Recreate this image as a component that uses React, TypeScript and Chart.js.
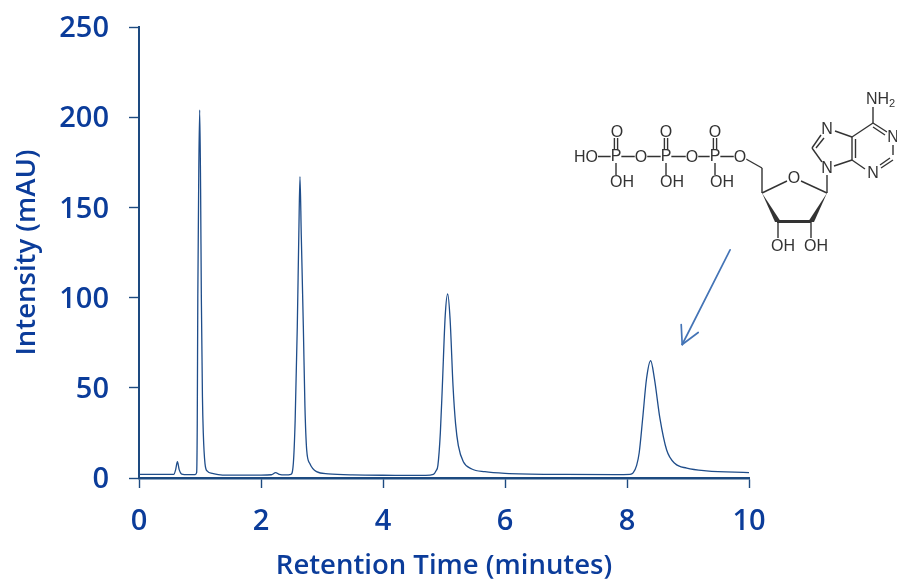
import React, { useEffect, useRef } from "react";
import { Chart, registerables } from "chart.js";

Chart.register(...registerables);

const xTickValues = [0, 2, 4, 6, 8, 10];
const yTickValues = [0, 50, 100, 150, 200, 250];
const xTitle = "Retention Time (minutes)";
const yTitle = "Intensity (mAU)";

const times = [
  0, 0.3, 0.57, 0.6, 0.63, 0.66, 0.7, 0.8, 0.92, 0.945, 0.955, 0.964, 0.98, 0.995, 1.01, 1.022, 1.04, 1.054,
  1.082, 1.12, 1.2, 1.3, 1.45, 1.7, 2.0, 2.17, 2.24, 2.3, 2.4, 2.49, 2.53, 2.56, 2.595, 2.62, 2.639, 2.66,
  2.694, 2.72, 2.749, 2.8, 2.91, 3.1, 3.5, 4.2, 4.7, 4.825, 4.87, 4.9, 4.94, 4.973, 5.02, 5.06, 5.1, 5.148,
  5.19, 5.235, 5.317, 5.455, 5.67, 6.0, 7.0, 7.8, 8.05, 8.1, 8.158, 8.2, 8.257, 8.32, 8.388, 8.45, 8.54,
  8.65, 8.787, 8.98, 9.3, 10,
];
const intensities = [
  2, 2, 2, 4.5, 9, 4.5, 2.2, 1.9, 1.9, 3, 30, 100, 170, 204, 160, 100, 45, 25,
  8, 3.8, 2.6, 1.9, 1.6, 1.6, 1.6, 1.8, 3, 2, 1.7, 2, 8, 32, 84, 135, 167, 135,
  84, 40, 15.5, 8, 3.5, 2.3, 1.7, 1.5, 1.4, 2, 4, 7, 25, 51, 90, 102, 88, 51,
  30, 18, 9, 5, 3.5, 2.6, 2, 1.9, 2, 2.8, 7, 14, 33, 55, 65, 55, 33,
  15.5, 8, 5.5, 4, 3,
];

const ink = "#0b3c9a";
const axisColor = "#1d4a80";
const lineColor = "#1f4d8a";
const arrowColor = "#4474b6";
const structureColor = "#333333";

const moleculePlugin = {
  id: "molecule",
  afterDraw(chart: Chart) {
    const c = chart.ctx;
    const line = (x1: number, y1: number, x2: number, y2: number, w = 1.4) => {
      c.lineWidth = w;
      c.beginPath();
      c.moveTo(x1, y1);
      c.lineTo(x2, y2);
      c.stroke();
    };
    c.save();
    c.filter = "blur(0.4px)";
    c.strokeStyle = structureColor;
    c.fillStyle = structureColor;
    c.lineCap = "butt";

    // phosphate chain
    line(596, 156.5, 736, 156.5);
    for (const px of [616, 666, 715]) {
      line(px - 1.6, 138, px - 1.6, 150);
      line(px + 1.6, 138, px + 1.6, 150);
      line(px, 163, px, 175);
    }
    // ribose ring
    line(746, 159, 762, 168);
    line(762, 168, 762, 193);
    line(762, 193, 787, 181);
    line(801, 181, 827, 193);
    line(827, 193, 827, 175);
    c.beginPath();
    c.moveTo(762, 193);
    c.lineTo(781, 222);
    c.lineTo(775, 222);
    c.closePath();
    c.fill();
    c.beginPath();
    c.moveTo(827, 193);
    c.lineTo(814, 222);
    c.lineTo(808, 222);
    c.closePath();
    c.fill();
    line(777, 221.5, 811, 221.5, 3.2);
    line(778, 222, 778, 238);
    line(811, 222, 811, 238);
    // adenine
    line(834, 166, 852, 160);
    line(852, 160, 852, 137);
    line(855.5, 158, 855.5, 139);
    line(852, 137, 835, 131);
    line(821, 135, 812, 148);
    line(824, 138, 816, 148);
    line(812, 148, 822, 162);
    line(852, 137, 873, 123);
    line(873, 123, 887, 132);
    line(873, 127, 885, 135);
    line(893, 145, 893, 155);
    line(893, 160, 881, 168);
    line(890, 158, 880, 165);
    line(865, 169, 852, 160);
    line(873, 123, 873, 107);

    // atom labels
    c.font = "16px 'Liberation Sans'";
    c.textAlign = "center";
    c.textBaseline = "middle";
    const labels: [string, number, number][] = [
      ["HO", 586, 157], ["P", 616, 156], ["O", 617, 132], ["OH", 622, 182], ["O", 641, 157],
      ["P", 666, 156], ["O", 666, 132], ["OH", 672, 182], ["O", 692, 157], ["P", 715, 156],
      ["O", 715, 132], ["OH", 722, 182], ["O", 740, 157], ["O", 794, 178], ["OH", 783, 246],
      ["OH", 816, 246], ["N", 827, 168], ["N", 827, 129], ["N", 893, 137], ["N", 873, 173],
    ];
    for (const [s, x, y] of labels) {
      const w = c.measureText(s).width;
      c.fillStyle = "#fff";
      c.fillRect(x - w / 2, y - 5.5, w, 11);
      c.fillStyle = structureColor;
      c.fillText(s, x, y + 0.5);
    }
    c.textAlign = "left";
    c.fillText("NH", 866, 100);
    c.font = "11px 'Liberation Sans'";
    c.fillText("2", 889, 104);
    c.filter = "none";

    // arrow, anchored on the chart's scales
    const sx = chart.scales.x;
    const sy = chart.scales.y;
    const tipX = sx.getPixelForValue(8.905);
    const tipY = sy.getPixelForValue(74);
    const tailX = sx.getPixelForValue(9.69);
    const tailY = sy.getPixelForValue(126.5);
    c.strokeStyle = arrowColor;
    c.lineCap = "round";
    line(tailX, tailY, tipX, tipY, 1.7);
    line(tipX, tipY, tipX - 1, tipY - 20, 1.7);
    line(tipX, tipY, tipX + 16, tipY - 12, 1.7);
    c.restore();
  },
};

export default function App() {
  const ref = useRef<HTMLCanvasElement>(null);
  useEffect(() => {
    document.body.style.margin = "0";
    const chart = new Chart(ref.current!, {
      type: "line",
      data: {
        datasets: [
          {
            data: times.map((t, i) => ({ x: t, y: intensities[i] })),
            borderColor: lineColor,
            borderWidth: 1.3,
            pointRadius: 0,
            cubicInterpolationMode: "monotone",
            fill: false,
          },
        ],
      },
      options: {
        animation: false,
        responsive: false,
        layout: { padding: { top: 27, right: 148, left: 0, bottom: 0 } },
        plugins: { legend: { display: false }, tooltip: { enabled: false } },
        scales: {
          x: {
            type: "linear",
            min: 0,
            max: 10,
            afterBuildTicks: (s: any) => {
              s.ticks = xTickValues.map((value) => ({ value }));
            },
            afterFit: (s: any) => {
              s.height = 102;
            },
            border: { color: axisColor, width: 2.4 },
            grid: { drawOnChartArea: false, color: axisColor, tickLength: 10, tickWidth: 1.4 },
            ticks: {
              color: ink,
              padding: 16,
              maxRotation: 0,
              font: { family: "'Open Sans'", size: 29, weight: 600 },
            },
            title: {
              display: true,
              text: xTitle,
              color: ink,
              padding: { top: 0, bottom: -3 },
              font: { family: "'Open Sans'", size: 27.5, weight: 600 },
            },
          },
          y: {
            min: 0,
            max: 250,
            afterBuildTicks: (s: any) => {
              s.ticks = yTickValues.map((value) => ({ value }));
            },
            afterFit: (s: any) => {
              s.width = 139;
              s.paddingTop = 0;
              s.paddingBottom = 0;
            },
            border: { color: axisColor, width: 2 },
            grid: { drawOnChartArea: false, color: axisColor, tickLength: 10, tickWidth: 1.4 },
            ticks: {
              color: ink,
              padding: 20,
              labelOffset: 2,
              font: { family: "'Open Sans'", size: 29, weight: 600 },
            },
            title: {
              display: true,
              text: yTitle,
              color: ink,
              padding: { top: 11, bottom: 0 },
              font: { family: "'Open Sans'", size: 27.5, weight: 600 },
            },
          },
        },
      },
      plugins: [moleculePlugin],
    } as any);
    return () => chart.destroy();
  }, []);
  return <canvas ref={ref} width={897} height={580} style={{ display: "block" }} />;
}
